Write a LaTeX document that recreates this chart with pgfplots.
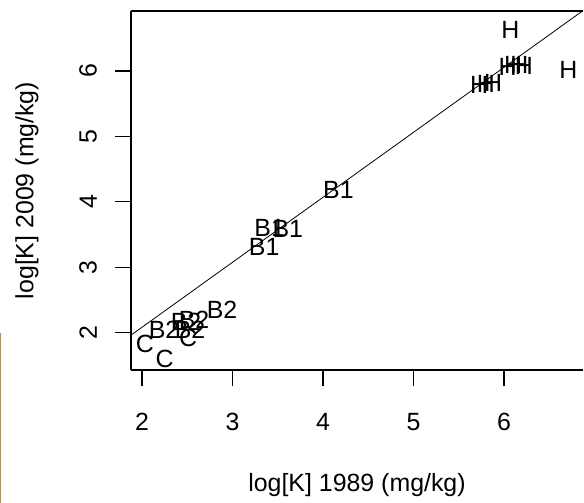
\documentclass[border=0pt]{standalone}
\usepackage{pgfplots}
\pgfplotsset{compat=1.18}
\usepackage{fontspec}
\setmainfont{Liberation Sans}
\newcommand{\lbl}{\fontsize{25}{29}\selectfont}
\begin{document}
\begin{tikzpicture}
\begin{axis}[
  at={(0,0)}, anchor=south west,
  scale only axis,
  width=452bp, height=359bp,
  xmin=1.878, xmax=6.872,
  ymin=1.427, ymax=6.917,
  axis x line*=box, axis y line*=left,
  axis line style={-, line width=1.2bp, black},
  xtick={2,3,4,5,6}, ytick={2,3,4,5,6},
  tick pos=left,
  tick align=outside,
  major tick length=16bp,
  every tick/.style={black, line width=1.2bp},
  /pgf/number format/assume math mode=true,
  tick label style={font=\lbl, inner sep=0pt},
  yticklabel style={rotate=90, anchor=south},
  xticklabel style={anchor=north},
  xticklabel shift=27bp,
  yticklabel shift=18bp,
  xlabel={log[K] 1989 (mg/kg)},
  ylabel={log[K] 2009 (mg/kg)},
  every axis x label/.style={at={(axis description cs:0.5,-0.3203)}, anchor=center, font=\lbl},
  every axis y label/.style={at={(axis description cs:-0.230,0.5)}, rotate=90, anchor=center, font=\lbl},
  clip marker paths=false,
]
% fitted line
\addplot[black, line width=0.8bp] coordinates {(1.878,1.96) (6.95,7.0)};
% H
\addplot[only marks, mark=text, text mark={H}, text mark as node=true,
  text mark style={font=\lbl, anchor=center, inner sep=0pt}] table {
x y
5.724 5.79
5.80 5.80
5.88 5.82
6.04 6.06
6.10 6.09
6.17 6.09
6.22 6.08
6.07 6.63
6.71 6.02
};
% B1
\addplot[only marks, mark=text, text mark={B1}, text mark as node=true,
  text mark style={font=\lbl, anchor=center, inner sep=0pt}] table {
x y
3.41 3.60
3.61 3.59
3.35 3.31
4.17 4.18
};
% B2
\addplot[only marks, mark=text, text mark={B2}, text mark as node=true,
  text mark style={font=\lbl, anchor=center, inner sep=0pt}] table {
x y
2.884 2.35
2.243 2.04
2.486 2.16
2.575 2.19
2.53 2.04
};
% C
\addplot[only marks, mark=text, text mark={C}, text mark as node=true,
  text mark style={font=\lbl, anchor=center, inner sep=0pt}] table {
x y
2.03 1.82
2.25 1.60
2.51 1.91
};
\end{axis}
\draw[line width=1.5bp, color={rgb,255:red,196;green,146;blue,66}] (-130.25bp,-133bp) -- (-130.25bp,37bp);
\pgfresetboundingbox
\useasboundingbox (-131bp,-133bp) rectangle (453bp,370bp);
\end{tikzpicture}
\end{document}
